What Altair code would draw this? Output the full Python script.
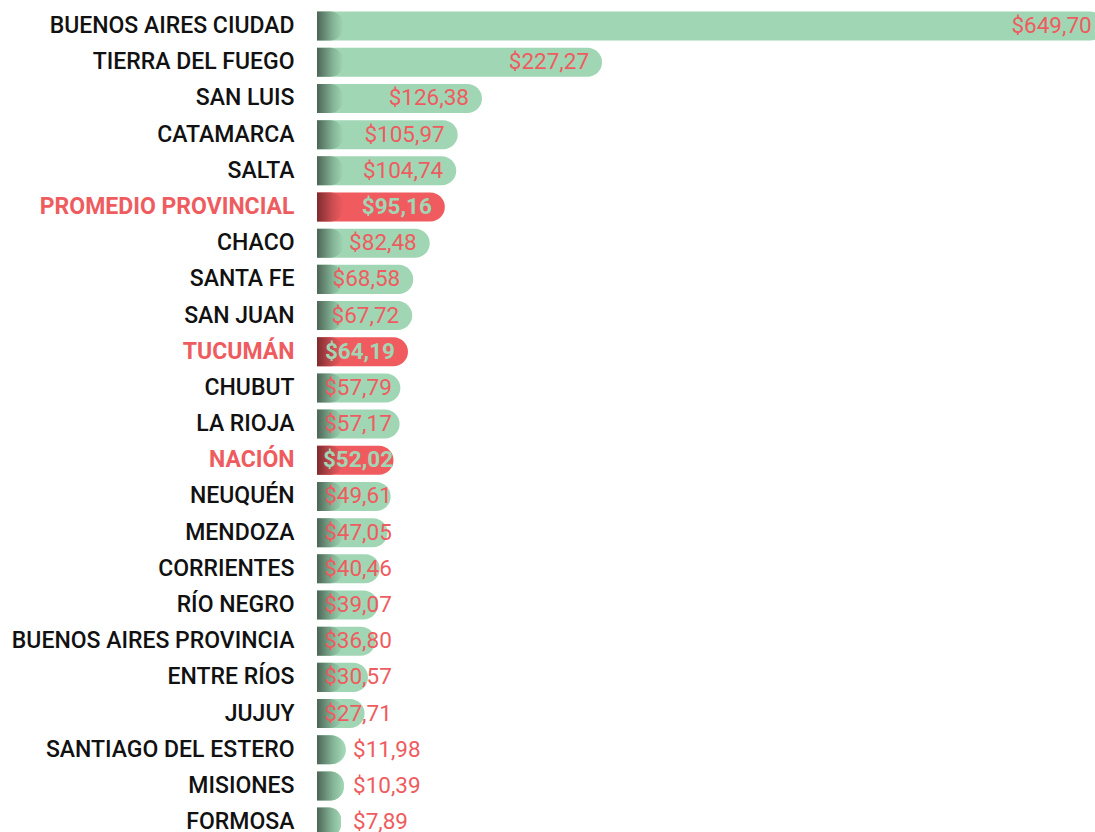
import altair as alt
import pandas as pd

names = ["BUENOS AIRES CIUDAD", "TIERRA DEL FUEGO", "SAN LUIS", "CATAMARCA", "SALTA",
         "PROMEDIO PROVINCIAL", "CHACO", "SANTA FE", "SAN JUAN", "TUCUMÁN", "CHUBUT",
         "LA RIOJA", "NACIÓN", "NEUQUÉN", "MENDOZA", "CORRIENTES", "RÍO NEGRO",
         "BUENOS AIRES PROVINCIA", "ENTRE RÍOS", "JUJUY", "SANTIAGO DEL ESTERO",
         "MISIONES", "FORMOSA"]
values = [649.70, 227.27, 126.38, 105.97, 104.74, 95.16, 82.48, 68.58, 67.72, 64.19,
          57.79, 57.17, 52.02, 49.61, 47.05, 40.46, 39.07, 36.80, 30.57, 27.71,
          11.98, 10.39, 7.89]
labels = ["$649,70", "$227,27", "$126,38", "$105,97", "$104,74", "$95,16", "$82,48",
          "$68,58", "$67,72", "$64,19", "$57,79", "$57,17", "$52,02", "$49,61",
          "$47,05", "$40,46", "$39,07", "$36,80", "$30,57", "$27,71", "$11,98",
          "$10,39", "$7,89"]
highlighted = ["PROMEDIO PROVINCIAL", "TUCUMÁN", "NACIÓN"]

GREEN = "#a1d6b4"
RED = "#f05b5f"
LABEL_RED = "#ee5c60"
FONT = "Roboto, sans-serif"

df = pd.DataFrame({"name": names, "value": values, "label": labels})
df["hl"] = df["name"].isin(highlighted)
df["zero"] = 0.0
df["gend"] = df["value"].clip(upper=10)

hl_list = "[" + ",".join("'" + h + "'" for h in highlighted) + "]"
hl_test = f"indexof({hl_list}, datum.value) >= 0"

x_scale = alt.Scale(domain=[0, 653.8], nice=False, zero=True)
y_scale = alt.Scale(range=[0, 832.2], paddingInner=0.198, paddingOuter=0.099)

y_enc = alt.Y(
    "name:N", sort=names, scale=y_scale, title=None,
    axis=alt.Axis(
        domain=False, ticks=False, grid=False, labelPadding=23, labelFont=FONT,
        labelFontSize=23, labelLimit=400, labelBaseline="middle",
        labelFontWeight=alt.condition(hl_test, alt.value("bold"), alt.value(500)),
        labelColor=alt.condition(hl_test, alt.value(LABEL_RED), alt.value("#111111")),
    ),
)

base = alt.Chart(df).encode(y=y_enc)

bars = base.mark_bar(
    clip=True, x2Offset=14.6, cornerRadiusTopRight=14.5, cornerRadiusBottomRight=14.5
).encode(
    x=alt.X("zero:Q", scale=x_scale, axis=None),
    x2="value:Q",
    color=alt.condition("datum.hl", alt.value(RED), alt.value(GREEN)),
)


def grad(c0, c1, c2):
    return alt.LinearGradient(
        gradient="linear", x1=0, x2=1, y1=0, y2=0,
        stops=[alt.GradientStop(color=c0, offset=0),
               alt.GradientStop(color=c1, offset=0.6),
               alt.GradientStop(color=c2, offset=1)],
    )


g_green = base.mark_bar(
    clip=True, x2Offset=14.6, cornerRadiusTopRight=14.5, cornerRadiusBottomRight=14.5,
    fill=grad("#4d6556", "#84b496", GREEN),
).encode(
    x=alt.X("zero:Q", scale=x_scale, axis=None), x2="gend:Q"
).transform_filter("!datum.hl")

g_red = base.mark_bar(
    clip=True, x2Offset=14.6, cornerRadiusTopRight=14.5, cornerRadiusBottomRight=14.5,
    fill=grad("#7e2c2f", "#cd4e52", RED),
).encode(
    x=alt.X("zero:Q", scale=x_scale, axis=None), x2="gend:Q"
).transform_filter("datum.hl")

layers = [bars, g_green, g_red]
for hl in (False, True):
    hf = "datum.hl" if hl else "!datum.hl"
    color = GREEN if hl else LABEL_RED
    weight = "bold" if hl else "normal"
    common = dict(baseline="middle", font=FONT, fontSize=22.5, color=color, fontWeight=weight)
    layers.append(
        base.mark_text(align="right", dx=1.6, **common).encode(
            x=alt.X("value:Q", scale=x_scale, axis=None), text="label:N"
        ).transform_filter(f"{hf} && datum.value >= 60")
    )
    layers.append(
        base.mark_text(align="center", **common).encode(
            x=alt.value(41), text="label:N"
        ).transform_filter(f"{hf} && datum.value >= 20 && datum.value < 60")
    )
    layers.append(
        base.mark_text(align="left", **common).encode(
            x=alt.value(36), text="label:N"
        ).transform_filter(f"{hf} && datum.value < 20")
    )

chart = alt.layer(*layers).properties(
    width=778, height=824,
    autosize=alt.AutoSizeParams(type="none"),
    padding={"left": 317, "top": 8, "right": 0, "bottom": 0},
).configure(
    background="white",
    view=alt.ViewConfig(stroke="transparent", strokeWidth=0),
)

chart.save("out.html", embed_options={"renderer": "svg", "actions": False})
